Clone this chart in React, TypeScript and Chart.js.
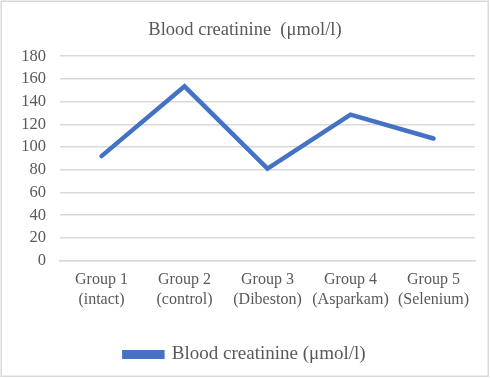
import React, { useEffect, useRef } from "react";
import { Chart, registerables } from "chart.js";
Chart.register(...registerables);

const categories: string[][] = [
  ["Group 1", "(intact)"],
  ["Group 2", "(control)"],
  ["Group 3", "(Dibeston)"],
  ["Group 4", "(Asparkam)"],
  ["Group 5", "(Selenium)"],
];
const creatinine: number[] = [92, 153.5, 81, 128.5, 107.5];
const yMin = 0;
const yMax = 180;
const yStep = 20;
const chartTitle = "Blood creatinine  (\u03bcmol/l)";
const seriesName = "Blood creatinine (\u03bcmol/l)";

const FONT = "'Liberation Serif', 'Times New Roman', serif";
const TEXT = "#595959";
const GRID = "#d9d9d9";
const LINE = "#4472C4";

const framePlugin = {
  id: "frame",
  beforeDraw(chart: any) {
    const ctx = chart.ctx;
    ctx.save();
    ctx.fillStyle = "#ffffff";
    ctx.fillRect(0, 0, chart.width, chart.height);
    ctx.restore();
  },
  afterDraw(chart: any) {
    const ctx = chart.ctx;
    ctx.save();
    ctx.strokeStyle = GRID;
    ctx.lineWidth = 1.5;
    ctx.strokeRect(1.25, 1.25, chart.width - 3, chart.height - 3);
    ctx.restore();
  },
};

export default function App() {
  const ref = useRef<HTMLCanvasElement | null>(null);
  useEffect(() => {
    if (!ref.current) return;
    const chart = new Chart(ref.current, {
      type: "line",
      data: {
        labels: categories,
        datasets: [
          {
            label: seriesName,
            data: creatinine,
            borderColor: LINE,
            backgroundColor: LINE,
            borderWidth: 4.5,
            pointRadius: 0,
            tension: 0,
            borderCapStyle: "round",
            borderJoinStyle: "miter",
          },
        ],
      },
      options: {
        animation: false,
        responsive: false,
        maintainAspectRatio: false,
        layout: { padding: { left: 0, right: 0, top: 0, bottom: 4 } },
        plugins: {
          title: {
            display: true,
            text: chartTitle,
            color: TEXT,
            font: { family: FONT, size: 18.5, weight: "normal" },
            padding: { top: 19, bottom: 15 },
          },
          legend: {
            display: true,
            position: "bottom",
            labels: {
              color: TEXT,
              font: { family: FONT, size: 19 },
              boxWidth: 38,
              boxHeight: 4.5,
              padding: 10,
            },
          },
          tooltip: { enabled: false },
        },
        scales: {
          x: {
            offset: true,
            grid: { display: false, drawTicks: false },
            border: { display: true, color: GRID, width: 1.5 },
            ticks: {
              color: TEXT,
              font: { family: FONT, size: 16 },
              padding: 10,
              maxRotation: 0,
              autoSkip: false,
            },
            afterFit(scale: any) {
              scale.height += 16;
            },
          },
          y: {
            min: yMin,
            max: yMax,
            grid: { color: GRID, lineWidth: 1.5, drawTicks: false },
            border: { display: false },
            ticks: {
              stepSize: yStep,
              autoSkip: false,
              color: TEXT,
              font: { family: FONT, size: 16.5 },
              padding: 14,
            },
            afterFit(scale: any) {
              scale.width = 60;
            },
          },
          yRight: {
            position: "right",
            display: true,
            grid: { display: false, drawTicks: false },
            border: { display: false },
            ticks: { display: false },
            afterFit(scale: any) {
              scale.width = 15;
            },
          },
        },
      },
      plugins: [framePlugin],
    } as any);
    return () => chart.destroy();
  }, []);
  return (
    <div style={{ position: "absolute", left: 0, top: 0, width: 490, height: 378 }}>
      <canvas ref={ref} width={490} height={378} style={{ display: "block" }} />
    </div>
  );
}
